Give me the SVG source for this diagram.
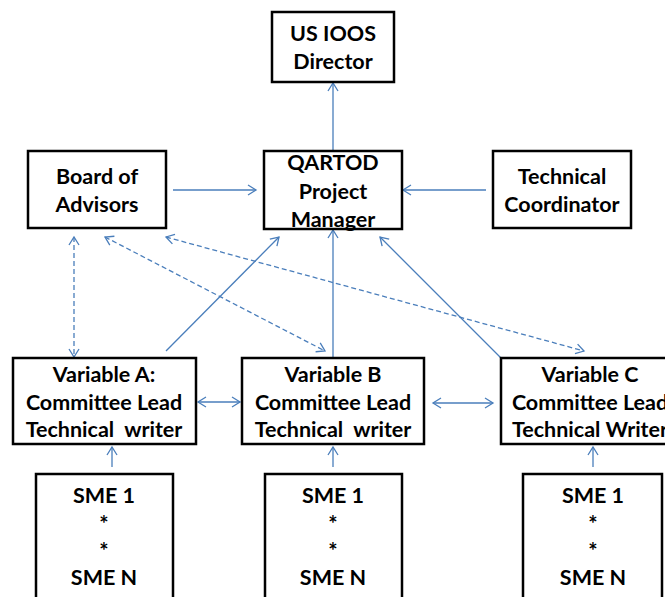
<svg xmlns="http://www.w3.org/2000/svg" width="665" height="597" viewBox="0 0 665 597">
<style>
.box{fill:#fff;stroke:#000;stroke-width:2.5}
.t{font-family:Lato,"Liberation Sans",sans-serif;font-weight:bold;font-size:21.5px;fill:#000;text-anchor:middle;white-space:pre}
.s{font-size:22px}
.c{fill:none;stroke:#4a7ebb;stroke-width:1.3}
.d{stroke-dasharray:5,3}
</style>
<defs>
<marker id="a" markerUnits="userSpaceOnUse" markerWidth="12" markerHeight="12" refX="9" refY="6" orient="auto-start-reverse">
<path d="M1,1 L9,6 L1,11" fill="none" stroke="#4a7ebb" stroke-width="1.3"/>
</marker>
</defs>
<rect width="665" height="597" fill="#fff"/>
<g id="connectors">
<line class="c" x1="333" y1="150" x2="333" y2="83" marker-end="url(#a)"/>
<line class="c" x1="173" y1="190" x2="256" y2="190" marker-end="url(#a)"/>
<line class="c" x1="486" y1="190" x2="403" y2="190" marker-end="url(#a)"/>
<line class="c d" x1="74" y1="237" x2="74" y2="357" marker-start="url(#a)" marker-end="url(#a)"/>
<line class="c d" x1="105" y1="237" x2="325" y2="351" marker-start="url(#a)" marker-end="url(#a)"/>
<line class="c d" x1="166" y1="237" x2="584" y2="351" marker-start="url(#a)" marker-end="url(#a)"/>
<line class="c" x1="166" y1="351" x2="279" y2="237" marker-end="url(#a)"/>
<line class="c" x1="333" y1="358" x2="333" y2="230" marker-end="url(#a)"/>
<line class="c" x1="501" y1="358" x2="380" y2="237" marker-end="url(#a)"/>
<line class="c" x1="198" y1="402" x2="240" y2="402" marker-start="url(#a)" marker-end="url(#a)"/>
<line class="c" x1="433" y1="403" x2="493" y2="403" marker-start="url(#a)" marker-end="url(#a)"/>
<line class="c" x1="112" y1="467" x2="112" y2="447" marker-end="url(#a)"/>
<line class="c" x1="333" y1="467" x2="333" y2="447" marker-end="url(#a)"/>
<line class="c" x1="593" y1="467" x2="593" y2="447" marker-end="url(#a)"/>
</g>
<g id="director">
<rect class="box" x="272" y="12" width="122" height="70"/>
<text class="t" x="333" y="41">US IOOS</text>
<text class="t" x="333" y="69">Director</text>
</g>
<g id="qartod">
<rect class="box" x="264" y="151" width="138" height="78"/>
<text class="t" x="333" y="170">QARTOD</text>
<text class="t" x="333" y="199">Project</text>
<text class="t" x="333" y="227">Manager</text>
</g>
<g id="board">
<rect class="box" x="28" y="151" width="138" height="77"/>
<text class="t" x="97" y="184">Board of</text>
<text class="t" x="97" y="212">Advisors</text>
</g>
<g id="techcoord">
<rect class="box" x="493" y="151" width="138" height="77"/>
<text class="t" x="562" y="184">Technical</text>
<text class="t" x="562" y="212">Coordinator</text>
</g>
<g id="varA">
<rect class="box" x="13" y="358" width="183" height="86"/>
<text class="t" x="104" y="382">Variable A:</text>
<text class="t" x="104" y="410">Committee Lead</text>
<text class="t" x="104" y="437">Technical  writer</text>
</g>
<g id="varB">
<rect class="box" x="242" y="358" width="182" height="86"/>
<text class="t" x="333" y="382">Variable B</text>
<text class="t" x="333" y="410">Committee Lead</text>
<text class="t" x="333" y="437">Technical  writer</text>
</g>
<g id="varC">
<rect class="box" x="501" y="358" width="180" height="86"/>
<text class="t" x="590" y="382">Variable C</text>
<text class="t" x="590" y="410">Committee Lead</text>
<text class="t" x="590" y="437">Technical Writer</text>
</g>
<g id="smeA">
<rect class="box" x="36" y="474" width="137" height="130"/>
<text class="t" x="104" y="503">SME 1</text>
<text class="t s" x="104" y="532">*</text>
<text class="t s" x="104" y="559">*</text>
<text class="t" x="104" y="585">SME N</text>
</g>
<g id="smeB">
<rect class="box" x="265" y="474" width="137" height="130"/>
<text class="t" x="333" y="503">SME 1</text>
<text class="t s" x="333" y="532">*</text>
<text class="t s" x="333" y="559">*</text>
<text class="t" x="333" y="585">SME N</text>
</g>
<g id="smeC">
<rect class="box" x="523" y="474" width="139" height="130"/>
<text class="t" x="593" y="503">SME 1</text>
<text class="t s" x="593" y="532">*</text>
<text class="t s" x="593" y="559">*</text>
<text class="t" x="593" y="585">SME N</text>
</g>
</svg>
